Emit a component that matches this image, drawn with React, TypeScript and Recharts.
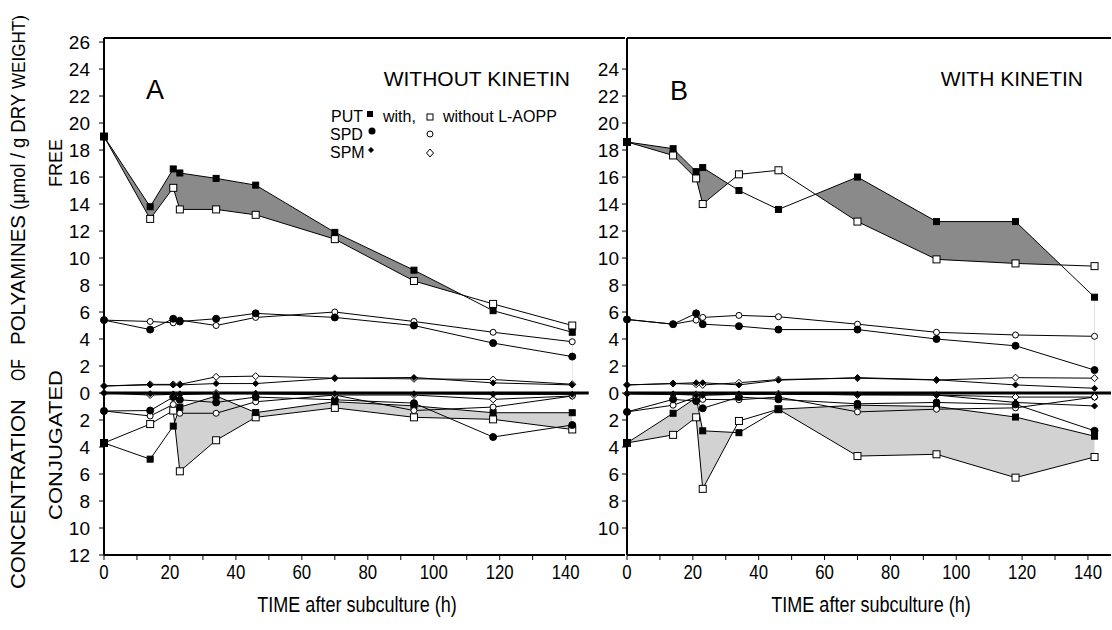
import { ComposedChart, Line, Area, XAxis, YAxis, ReferenceLine } from 'recharts';

// sampling times (h after subculture)
const hours = [0, 14, 21, 23, 34, 46, 70, 94, 118, 142];

// panel A, without kinetin - free (µmol/g DW)
const aPutWith = [19.0, 13.8, 16.6, 16.3, 15.9, 15.4, 11.9, 9.1, 6.1, 4.5];
const aPutWithout = [19.0, 12.9, 15.2, 13.6, 13.6, 13.2, 11.4, 8.3, 6.6, 5.0];
const aSpdWith = [5.4, 4.7, 5.5, 5.3, 5.5, 5.9, 5.6, 5.0, 3.7, 2.7];
const aSpdWithout = [5.4, 5.3, 5.2, 5.4, 5.0, 5.6, 6.0, 5.3, 4.5, 3.8];
const aSpmWith = [0.52, 0.6, 0.6, 0.6, 0.7, 0.7, 1.1, 1.15, 0.75, 0.6];
const aSpmWithout = [0.52, 0.64, 0.64, 0.64, 1.2, 1.25, 1.1, 1.05, 1.0, 0.65];
// panel A - conjugated
const aCPutWith = [3.7, 4.9, 2.45, 1.05, 0.22, 1.45, 0.65, 0.95, 1.46, 1.46];
const aCPutWithout = [3.7, 2.3, 1.3, 5.8, 3.5, 1.8, 1.1, 1.8, 1.95, 2.7];
const aCSpdWith = [1.33, 1.3, 0.3, 0.5, 0.7, 0.3, 0.5, 0.75, 3.26, 2.37];
const aCSpdWithout = [1.33, 1.7, 0.85, 1.5, 1.5, 0.65, 0.15, 1.3, 1.04, 0.22];
const aCSpmWith = [0, 0.05, 0.1, 0.1, 0.05, 0.05, 0.05, 0.05, 0.1, 0.1];
const aCSpmWithout = [0, 0.15, 0.1, 0.1, 0, 0.05, 0.15, 0.15, 0.47, 0.22];

// panel B, with kinetin - free
const bPutWith = [18.6, 18.1, 16.4, 16.7, 15.0, 13.6, 16.0, 12.7, 12.7, 7.1];
const bPutWithout = [18.6, 17.6, 15.9, 14.0, 16.2, 16.5, 12.7, 9.9, 9.6, 9.4];
const bSpdWith = [5.45, 5.1, 5.9, 5.1, 4.95, 4.7, 4.7, 4.0, 3.5, 1.7];
const bSpdWithout = [5.45, 5.1, 5.4, 5.6, 5.75, 5.65, 5.1, 4.5, 4.3, 4.2];
const bSpmWith = [0.6, 0.7, 0.76, 0.76, 0.6, 0.95, 1.14, 0.98, 0.6, 0.35];
const bSpmWithout = [0.6, 0.7, 0.65, 0.6, 0.76, 1.0, 1.1, 0.96, 1.14, 1.1];
// panel B - conjugated
const bCPutWith = [3.7, 1.5, 0.35, 2.8, 2.94, 1.2, 0.9, 1.0, 1.78, 3.2];
const bCPutWithout = [3.7, 3.1, 1.8, 7.1, 2.07, 1.2, 4.67, 4.54, 6.27, 4.74];
const bCSpdWith = [1.4, 0.47, 0.6, 1.13, 0.3, 0.47, 0.8, 0.7, 0.84, 2.8];
const bCSpdWithout = [1.4, 0.9, 0.3, 0.47, 0.5, 0.3, 1.4, 1.2, 1.1, 0.3];
const bCSpmWith = [0.05, 0.1, 0.15, 0.15, 0.1, 0.1, 0.1, 0.15, 0.7, 0.96];
const bCSpmWithout = [0.05, 0.1, 0.1, 0.15, 0.1, 0.05, 0.15, 0.15, 0.3, 0.3];

const xTicks = [0, 10, 20, 30, 40, 50, 60, 70, 80, 90, 100, 110, 120, 130, 140];
const yTicksA = [-12, -10, -8, -6, -4, -2, 0, 2, 4, 6, 8, 10, 12, 14, 16, 18, 20, 22, 24, 26];
const yTicksB = [-10, -8, -6, -4, -2, 0, 2, 4, 6, 8, 10, 12, 14, 16, 18, 20, 22, 24];

const build = (f: number[][], c: number[][]) =>
  hours.map((t, i) => ({
    t,
    putW: f[0][i], putWo: f[1][i], spdW: f[2][i], spdWo: f[3][i], spmW: f[4][i], spmWo: f[5][i],
    cPutW: -c[0][i], cPutWo: -c[1][i], cSpdW: -c[2][i], cSpdWo: -c[3][i], cSpmW: -c[4][i], cSpmWo: -c[5][i],
  }));

const dataA = build(
  [aPutWith, aPutWithout, aSpdWith, aSpdWithout, aSpmWith, aSpmWithout],
  [aCPutWith, aCPutWithout, aCSpdWith, aCSpdWithout, aCSpmWith, aCSpmWithout]
);
const dataB = build(
  [bPutWith, bPutWithout, bSpdWith, bSpdWithout, bSpmWith, bSpmWithout],
  [bCPutWith, bCPutWithout, bCSpdWith, bCSpdWithout, bCSpmWith, bCSpmWithout]
);

const TITLE = 'Liberation Sans, Arial, sans-serif';
const TICK_FONT = { fontFamily: TITLE, fontSize: 19, fill: '#000' };

// narrow-looking x tick labels (scanned figure uses a condensed face)
const XTick = (p: any) => {
  const { x, y, payload } = p;
  const v = payload.value;
  if (v % 20 !== 0) return <g />;
  return (
    <g transform={`translate(${x},${y})`}>
      <text x={0} y={17} transform="scale(0.8,1)" textAnchor="middle" fontSize={21} fontFamily={TITLE} fill="#000">
        {v}
      </text>
    </g>
  );
};

const makeDot = (kind: string, filled: boolean, s: number) => (p: any) => {
  const { cx, cy, index } = p;
  const fill = filled ? '#000' : '#fff';
  if (cx == null || cy == null) return <g key={index} />;
  if (kind === 'sq')
    return <rect key={index} x={cx - s / 2} y={cy - s / 2} width={s} height={s} fill={fill} stroke="#000" strokeWidth={1} />;
  if (kind === 'ci') return <circle key={index} cx={cx} cy={cy} r={s / 2} fill={fill} stroke="#000" strokeWidth={1} />;
  return (
    <path
      key={index}
      d={`M${cx},${cy - s / 2}L${cx + s / 2},${cy}L${cx},${cy + s / 2}L${cx - s / 2},${cy}Z`}
      fill={fill}
      stroke="#000"
      strokeWidth={1}
    />
  );
};

const series = [
  { key: 'putWo', kind: 'sq', filled: false, s: 7 },
  { key: 'putW', kind: 'sq', filled: true, s: 6 },
  { key: 'spdWo', kind: 'ci', filled: false, s: 6 },
  { key: 'spdW', kind: 'ci', filled: true, s: 7 },
  { key: 'spmWo', kind: 'di', filled: false, s: 7 },
  { key: 'spmW', kind: 'di', filled: true, s: 6 },
  { key: 'cPutWo', kind: 'sq', filled: false, s: 7 },
  { key: 'cPutW', kind: 'sq', filled: true, s: 6 },
  { key: 'cSpdWo', kind: 'ci', filled: false, s: 6 },
  { key: 'cSpdW', kind: 'ci', filled: true, s: 7 },
  { key: 'cSpmWo', kind: 'di', filled: false, s: 7 },
  { key: 'cSpmW', kind: 'di', filled: true, s: 6 },
];

const Panel = ({ data, width, yWidth, xMax, yTicks, zeroEnd, tickGap }: any) => (
  <ComposedChart width={width} height={630} data={data} margin={{ top: 38, right: 1, bottom: 40, left: 0 }}>
    <XAxis
      dataKey="t"
      type="number"
      domain={[0, xMax]}
      ticks={xTicks}
      interval={0}
      tick={<XTick />}
      tickSize={5}
      height={35}
      axisLine={{ stroke: '#000', strokeWidth: 2 }}
      tickLine={{ stroke: '#000' }}
    />
    <YAxis
      type="number"
      domain={[-12, 26.3]}
      ticks={yTicks}
      interval={0}
      tickFormatter={(v: number) => String(Math.abs(v))}
      tick={TICK_FONT}
      tickSize={5}
      tickMargin={tickGap}
      width={yWidth}
      axisLine={{ stroke: '#000', strokeWidth: 2 }}
      tickLine={{ stroke: '#000' }}
    />
    <Area type="linear" dataKey="putW" baseValue={0} stroke="none" fill="#8a8a8a" fillOpacity={1} isAnimationActive={false} activeDot={false} />
    <Area type="linear" dataKey="putWo" baseValue={0} stroke="none" fill="#fff" fillOpacity={1} isAnimationActive={false} activeDot={false} />
    <Area type="linear" dataKey="cPutWo" baseValue={0} stroke="none" fill="#d2d2d2" fillOpacity={1} isAnimationActive={false} activeDot={false} />
    <Area type="linear" dataKey="cPutW" baseValue={0} stroke="none" fill="#fff" fillOpacity={1} isAnimationActive={false} activeDot={false} />
    <ReferenceLine y={26.3} stroke="#000" strokeWidth={2} ifOverflow="visible" />
    <ReferenceLine segment={[{ x: 0, y: 0 }, { x: zeroEnd, y: 0 }]} stroke="#000" strokeWidth={3} ifOverflow="visible" />
    {series.map((s) => (
      <Line
        key={s.key}
        type="linear"
        dataKey={s.key}
        stroke="#000"
        strokeWidth={1}
        dot={makeDot(s.kind, s.filled, s.s)}
        activeDot={false}
        isAnimationActive={false}
      />
    ))}
  </ComposedChart>
);

// rotated word, stretched to the length it has in the scan
const vText = (x: number, y: number, txt: string, size: number, len: number) => (
  <text
    x={x}
    y={y}
    transform={`rotate(-90 ${x} ${y})`}
    textAnchor="middle"
    dominantBaseline="central"
    fontSize={size}
    fontFamily={TITLE}
    textLength={len}
    lengthAdjust="spacingAndGlyphs"
  >
    {txt}
  </text>
);

const xTitle = (cx: number) => (
  <g transform={`translate(${cx},612)`}>
    <text x={0} y={0} transform="scale(0.82,1)" textAnchor="middle" fontSize={22} fontFamily={TITLE}>
      TIME  after subculture (h)
    </text>
  </g>
);

export default function App() {
  return (
    <div style={{ position: 'absolute', left: 0, top: 0, width: 1112, height: 630, background: '#fff', overflow: 'hidden' }}>
      <div style={{ position: 'absolute', left: 0, top: 0 }}>
        <Panel data={dataA} width={626} yWidth={104} xMax={158} yTicks={yTicksA} zeroEnd={147} tickGap={9} />
      </div>
      <div style={{ position: 'absolute', left: 0, top: 0 }}>
        <Panel data={dataB} width={1112} yWidth={627} xMax={147} yTicks={yTicksB} zeroEnd={147} tickGap={3} />
      </div>
      <svg width={1112} height={630} style={{ position: 'absolute', left: 0, top: 0, pointerEvents: 'none' }}>
        {vText(18, 494, 'CONCENTRATION', 20, 190)}
        {vText(18, 370, 'OF', 20, 22)}
        {vText(18, 280, 'POLYAMINES', 20, 130)}
        {vText(18, 152, '(μmol / g DRY', 20, 116)}
        {vText(18, 52, 'WEIGHT)', 19, 74)}
        {vText(55, 163, 'FREE', 19, 48)}
        {vText(55, 445, 'CONJUGATED', 19, 150)}
        <text x={155} y={99} textAnchor="middle" fontSize={27} fontFamily={TITLE}>A</text>
        <text x={679} y={100} textAnchor="middle" fontSize={27} fontFamily={TITLE}>B</text>
        <text x={570} y={86} textAnchor="end" fontSize={21} fontFamily={TITLE}>WITHOUT KINETIN</text>
        <text x={1083} y={86} textAnchor="end" fontSize={21} fontFamily={TITLE}>WITH  KINETIN</text>
        <g fontFamily={TITLE} fontSize={16}>
          <text x={331} y={122}>PUT</text>
          <text x={383} y={122}>with,</text>
          <text x={443} y={122}>without  L-AOPP</text>
          <text x={330} y={140}>SPD</text>
          <text x={330} y={158}>SPM</text>
        </g>
        <rect x={367} y={111} width={6} height={6} fill="#000" />
        <rect x={427} y={114} width={6} height={6} fill="#fff" stroke="#000" />
        <circle cx={372} cy={131} r={3.5} fill="#000" />
        <circle cx={430} cy={134} r={3} fill="#fff" stroke="#000" />
        <path d="M371,147L374,150L371,153L368,150Z" fill="#000" />
        <path d="M430,149L433.5,153L430,157L426.5,153Z" fill="#fff" stroke="#000" />
        {xTitle(357)}
        {xTitle(871)}
      </svg>
    </div>
  );
}
